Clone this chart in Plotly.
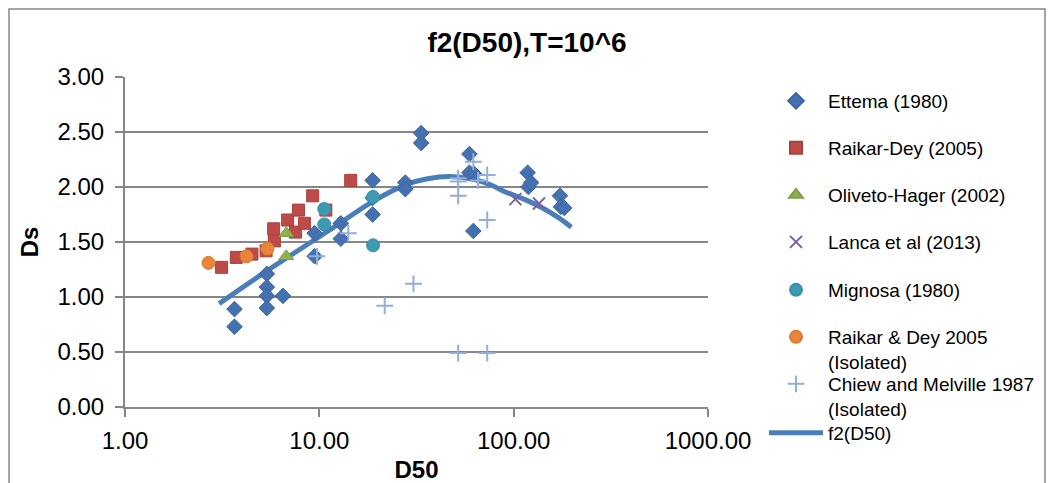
import plotly.graph_objects as go

# ---------------- data ----------------
ettema_x = [3.66, 3.66, 5.37, 5.37, 5.37, 5.37, 6.50, 9.46, 9.46, 12.9, 12.9, 18.8, 18.8, 18.8,
            27.7, 27.7, 33.4, 33.4, 59.2, 59.2, 62.5, 62.0, 118, 119, 123, 173, 175, 182]
ettema_y = [0.89, 0.73, 1.21, 1.09, 1.01, 0.90, 1.01, 1.58, 1.37, 1.67, 1.53, 2.06, 1.90, 1.75,
            2.04, 1.98, 2.49, 2.40, 2.30, 2.13, 2.12, 1.60, 2.13, 2.00, 2.04, 1.92, 1.82, 1.81]

raikar_x = [3.14, 3.74, 4.50, 5.32, 5.87, 5.82, 6.87, 7.54, 7.81, 8.38, 9.24, 10.8, 14.5]
raikar_y = [1.27, 1.36, 1.39, 1.42, 1.51, 1.62, 1.70, 1.59, 1.79, 1.67, 1.92, 1.79, 2.06]

oliveto_x = [6.76, 6.76]
oliveto_y = [1.58, 1.37]

lanca_x = [102, 135]
lanca_y = [1.89, 1.85]

mignosa_x = [10.6, 10.6, 18.9, 18.9]
mignosa_y = [1.80, 1.66, 1.91, 1.47]

raikar_iso_x = [2.69, 4.22, 5.41]
raikar_iso_y = [1.31, 1.37, 1.44]

chiew_x = [9.73, 14.1, 21.7, 30.5, 51.8, 51.8, 51.8, 62.0, 65.5, 73.1, 73.1, 51.8, 73.1]
chiew_y = [1.37, 1.58, 0.92, 1.12, 2.08, 2.05, 1.92, 2.23, 2.06, 2.11, 1.70, 0.49, 0.49]

f2_x = [3.05, 5.4, 11.1, 18.9, 27.7, 36, 47, 62, 76, 92, 113, 137, 167, 198]
f2_y = [0.94, 1.24, 1.60, 1.87, 2.02, 2.075, 2.095, 2.07, 2.02, 1.95, 1.89, 1.82, 1.73, 1.635]

x_tickvals = [1, 10, 100, 1000]
x_ticktext = ["1.00", "10.00", "100.00", "1000.00"]

names = ["Ettema (1980)", "Raikar-Dey (2005)", "Oliveto-Hager (2002)", "Lanca et al (2013)",
         "Mignosa (1980)", "Raikar & Dey 2005<br>(Isolated)",
         "Chiew and Melville 1987<br>(Isolated)", "f2(D50)"]

# ---------------- figure ----------------
OFF = 8  # default page body margin
W, H = 1054 - OFF, 483 - OFF
PL, PT, PR, PB = 125, 77, 708, 407       # plot area in page pixels
L_M, T_M = PL - OFF, PT - OFF
PW, PH = PR - PL, PB - PT
R_M, B_M = W - L_M - PW, H - T_M - PH

def px2paper_x(px):
    return (px - PL) / PW

def px2paper_y(py):
    return (PB - py) / PH

fig = go.Figure()

fig.add_trace(go.Scatter(x=f2_x, y=f2_y, mode="lines", name=names[7], line_shape="spline",
                         line=dict(color="#4A7EBB", width=5), legend="legend8"))

fig.add_trace(go.Scatter(x=ettema_x, y=ettema_y, mode="markers", name=names[0], legend="legend",
                         marker=dict(symbol="diamond", size=12, color="#4571B0",
                                     line=dict(color="#3B64A0", width=1))))
fig.add_trace(go.Scatter(x=raikar_x, y=raikar_y, mode="markers", name=names[1], legend="legend2",
                         marker=dict(symbol="square", size=12, color="#BE4B48",
                                     line=dict(color="#A83F3C", width=1))))
fig.add_trace(go.Scatter(x=oliveto_x, y=oliveto_y, mode="markers", name=names[2], legend="legend3",
                         marker=dict(symbol="triangle-up", size=13, color="#8FB050",
                                     line=dict(color="#7FA044", width=1))))
fig.add_trace(go.Scatter(x=lanca_x, y=lanca_y, mode="markers", name=names[3], legend="legend4",
                         marker=dict(symbol="x-thin", size=12, color="#7D5FA0",
                                     line=dict(color="#7D5FA0", width=2))))
fig.add_trace(go.Scatter(x=mignosa_x, y=mignosa_y, mode="markers", name=names[4], legend="legend5",
                         marker=dict(symbol="circle", size=13, color="#3D9AB5",
                                     line=dict(color="#3890A9", width=1))))
fig.add_trace(go.Scatter(x=raikar_iso_x, y=raikar_iso_y, mode="markers", name=names[5], legend="legend6",
                         marker=dict(symbol="circle", size=13, color="#E9853A",
                                     line=dict(color="#DD7A30", width=1))))
fig.add_trace(go.Scatter(x=chiew_x, y=chiew_y, mode="markers", name=names[6], legend="legend7",
                         marker=dict(symbol="cross-thin", size=12, color="#93AEDA",
                                     line=dict(color="#93AEDA", width=2))))

font_main = "Liberation Sans, Arial, sans-serif"
leg_font = dict(family=font_main, size=19, color="#000000")
rows = [100, 147, 194, 241, 289, 336, 383, 432]
leg_left = 764
legends = {}
for i, r in enumerate(rows):
    key = "legend" if i == 0 else f"legend{i+1}"
    legends[key] = dict(x=px2paper_x(leg_left), y=px2paper_y(r - 18), xanchor="left", yanchor="top",
                        font=leg_font, bgcolor="rgba(0,0,0,0)", valign="top",
                        itemsizing="constant", borderwidth=0, itemwidth=54)

fig.update_layout(
    width=W, height=H,
    margin=dict(l=L_M, r=R_M, t=T_M, b=B_M, autoexpand=False),
    paper_bgcolor="white", plot_bgcolor="white",
    title=dict(text="<b>f2(D50),T=10^6</b>", x=px2paper_x(527), xref="paper", xanchor="center",
               y=1 - (42 - OFF) / H, yanchor="middle",
               font=dict(family=font_main, size=28, color="#000000")),
    xaxis=dict(type="log", range=[0, 3], tickvals=x_tickvals, ticktext=x_ticktext,
               showgrid=False, zeroline=False, showline=True, linecolor="#868686", linewidth=2,
               ticks="outside", ticklen=8, tickwidth=2, tickcolor="#868686", ticklabelstandoff=3,
               tickfont=dict(family=font_main, size=24, color="#000000"),
               title=dict(text="<b>D50</b>", font=dict(family=font_main, size=24, color="#000000"),
                          standoff=8)),
    yaxis=dict(range=[0, 3], dtick=0.5, tickformat=".2f", showgrid=True, gridcolor="#868686",
               gridwidth=2, zeroline=False, showline=True, linecolor="#868686", linewidth=2,
               ticks="outside", ticklen=8, tickwidth=2, tickcolor="#868686", ticklabelstandoff=6,
               tickfont=dict(family=font_main, size=24, color="#000000"),
               title=dict(text="<b>Ds</b>", font=dict(family=font_main, size=24, color="#000000"),
                          standoff=12)),
    showlegend=True,
    **legends,
)

fig.add_shape(type="rect", xref="paper", yref="paper",
              x0=px2paper_x(9), x1=px2paper_x(1045), y0=px2paper_y(495), y1=px2paper_y(9),
              line=dict(color="#868686", width=1.5), fillcolor="rgba(0,0,0,0)", layer="below")

fig.write_html("out.html")
